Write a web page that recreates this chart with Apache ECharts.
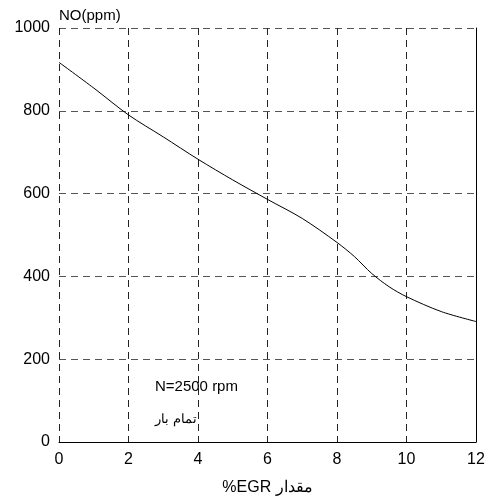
<!DOCTYPE html>
<html>
<head>
<meta charset="utf-8">
<script src="https://cdn.jsdelivr.net/npm/echarts@6/dist/echarts.min.js"></script>
<style>
  html, body { margin: 0; padding: 0; background: #fff; }
  #main { width: 493px; height: 503px; }
</style>
</head>
<body>
<div id="main"></div>
<script>
// EGR percent vs NO (ppm)
var egr = [0, 1, 2, 3, 4, 5, 6, 7, 8, 8.5, 9, 9.5, 10, 11, 12];
var no = [917, 855, 790, 737, 683, 633, 586, 540, 482, 448, 407, 375, 351, 315, 291];

var font = 'Liberation Sans, Arial, sans-serif';

var chart = echarts.init(document.getElementById('main'));
var option = {
    animation: false,
    grid: {left: 59, right: 17, top: 28, bottom: 61},
    xAxis: {
        type: 'value',
        min: 0, max: 12, interval: 2,
        name: '%EGR مقدار',
        nameLocation: 'middle',
        nameGap: 38,
        nameTextStyle: {color: '#000', fontSize: 16, fontFamily: font},
        axisLine: {show: true, onZero: false, lineStyle: {color: '#000', width: 1}},
        axisTick: {show: false},
        axisLabel: {color: '#000', fontSize: 16, fontFamily: font, margin: 10},
        splitLine: {show: true, lineStyle: {color: '#222', type: [7, 5], width: 1}}
    },
    yAxis: [
        {
            type: 'value',
            min: 0, max: 1000, interval: 200,
            name: 'NO(ppm)',
            nameLocation: 'end',
            nameGap: 5,
            nameTextStyle: {color: '#000', fontSize: 15, fontFamily: font, align: 'left'},
            axisLine: {show: false},
            axisTick: {show: false},
            axisLabel: {color: '#000', fontSize: 16, fontFamily: font, margin: 9,
                        formatter: function (v) { return String(v); }},
            splitLine: {show: true, lineStyle: {color: '#555', type: [7, 5], width: 1}}
        },
        {
            // right border of the frame
            type: 'value',
            position: 'right',
            min: 0, max: 1000,
            axisLine: {show: true, lineStyle: {color: '#000', width: 1}},
            axisTick: {show: false},
            axisLabel: {show: false},
            splitLine: {show: false}
        }
    ],
    series: [
        {
            type: 'line',
            data: egr.map(function (x, i) { return [x, no[i]]; }),
            smooth: 0.3,
            symbol: 'none',
            lineStyle: {color: '#000', width: 1}
        }
    ],
    graphic: [
        {type: 'text', left: 155, top: 379,
         style: {text: 'N=2500 rpm', fill: '#000', font: '15px ' + font}},
        {type: 'text', left: 155, top: 413,
         style: {text: 'تمام بار', fill: '#000', font: '13px ' + font}}
    ]
};
chart.setOption(option);
</script>
</body>
</html>
